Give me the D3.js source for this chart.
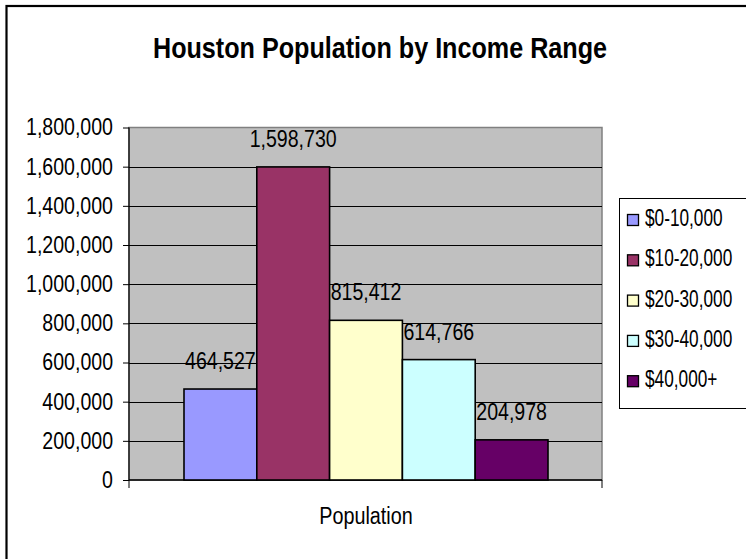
<!DOCTYPE html>
<html>
<head>
<meta charset="utf-8">
<script src="https://cdn.jsdelivr.net/npm/d3@7"></script>
<style>
  body { margin: 0; background: #fff; }
  svg { display: block; }
  text { font-family: "Liberation Sans", Arial, sans-serif; fill: #000; }
</style>
</head>
<body>
<script>
// Houston population by household income range
const title = "Houston Population by Income Range";
const categoryLabel = "Population";
const incomeRanges = ["$0-10,000", "$10-20,000", "$20-30,000", "$30-40,000", "$40,000+"];
const populations = [464527, 1598730, 815412, 614766, 204978];
const barColors = ["#9999FF", "#993366", "#FFFFCC", "#CCFFFF", "#660066"];
const yTicks = [0, 200000, 400000, 600000, 800000, 1000000, 1200000, 1400000, 1600000, 1800000];

const W = 746, H = 559;
const plot = { left: 129, right: 602, top: 127.5, bottom: 480 };

// narrow the glyphs horizontally to mimic a condensed face
function condense(sel, factor) {
  sel.each(function () {
    const w = this.getComputedTextLength();
    this.setAttribute("textLength", (w * factor).toFixed(1));
    this.setAttribute("lengthAdjust", "spacingAndGlyphs");
  });
}

const svg = d3.select("body").append("svg").attr("width", W).attr("height", H);

// outer chart frame (extends past the right and bottom edges)
svg.append("rect")
  .attr("x", 6.5).attr("y", 6).attr("width", W + 20).attr("height", H + 20)
  .attr("fill", "#fff").attr("stroke", "#000").attr("stroke-width", 2.2);

svg.append("text")
  .attr("x", 380).attr("y", 58)
  .attr("text-anchor", "middle")
  .attr("font-size", 29).attr("font-weight", "bold")
  .attr("textLength", 454).attr("lengthAdjust", "spacingAndGlyphs")
  .text(title);

const y = d3.scaleLinear().domain([0, 1800000]).range([plot.bottom, plot.top]);
const x = d3.scaleBand().domain(incomeRanges)
  .range([184, 548]).paddingInner(0).paddingOuter(0);

// plot area
svg.append("rect")
  .attr("x", plot.left).attr("y", plot.top)
  .attr("width", plot.right - plot.left).attr("height", plot.bottom - plot.top)
  .attr("fill", "#C0C0C0").attr("stroke", "#808080").attr("stroke-width", 1.5);

// gridlines
svg.append("g").selectAll("line").data(yTicks.filter(d => d > 0 && d < 1800000)).join("line")
  .attr("x1", plot.left).attr("x2", plot.right)
  .attr("y1", d => Math.round(y(d)) + 0.5).attr("y2", d => Math.round(y(d)) + 0.5)
  .attr("stroke", "#000").attr("stroke-width", 1);

// value axis
const yAxis = d3.axisLeft(y).tickValues(yTicks).tickFormat(d3.format(",")).tickSize(6).tickPadding(10);
const gy = svg.append("g").attr("transform", `translate(${plot.left},0)`).call(yAxis);
gy.select(".domain").attr("stroke", "#000").attr("stroke-width", 1.2).attr("d", `M0,${plot.top}V${plot.bottom}`);
gy.selectAll(".tick line").attr("stroke", "#000");
gy.selectAll(".tick text").attr("font-size", 23).attr("font-family", null).attr("fill", "#000");
condense(gy.selectAll(".tick text"), 0.85);

// category axis baseline and end ticks
svg.append("line")
  .attr("x1", plot.left).attr("x2", plot.right)
  .attr("y1", plot.bottom).attr("y2", plot.bottom)
  .attr("stroke", "#000").attr("stroke-width", 1.5);
svg.append("g").selectAll("line").data([plot.left, plot.right]).join("line")
  .attr("x1", d => d).attr("x2", d => d)
  .attr("y1", plot.bottom).attr("y2", plot.bottom + 8)
  .attr("stroke", "#000").attr("stroke-width", 1);

// bars
svg.append("g").selectAll("rect").data(populations).join("rect")
  .attr("x", (d, i) => x(incomeRanges[i]))
  .attr("y", d => y(d))
  .attr("width", x.bandwidth())
  .attr("height", d => y(0) - y(d))
  .attr("fill", (d, i) => barColors[i])
  .attr("stroke", "#000").attr("stroke-width", 1.6);

// value labels
const valueLabels = svg.append("g").selectAll("text").data(populations).join("text")
  .attr("x", (d, i) => x(incomeRanges[i]) + x.bandwidth() / 2)
  .attr("y", d => y(d) - 20)
  .attr("text-anchor", "middle")
  .attr("font-size", 23)
  .text(d => d3.format(",")(d));
condense(valueLabels, 0.85);

const catText = svg.append("text")
  .attr("x", 366).attr("y", 524)
  .attr("text-anchor", "middle")
  .attr("font-size", 23)
  .text(categoryLabel);
condense(catText, 0.86);

// legend (box runs to the right edge of the frame)
const legend = svg.append("g");
legend.append("rect")
  .attr("x", 619.5).attr("y", 198.5).attr("width", 127).attr("height", 210)
  .attr("fill", "#fff").attr("stroke", "#000").attr("stroke-width", 1);
const rows = legend.selectAll("g").data(incomeRanges).join("g")
  .attr("transform", (d, i) => `translate(0,${i * 40.3})`);
rows.append("rect")
  .attr("x", 627.5).attr("y", 214.5).attr("width", 11).attr("height", 11)
  .attr("fill", (d, i) => barColors[i]).attr("stroke", "#000").attr("stroke-width", 1.3);
// legend labels squeezed with a horizontal scale
rows.append("text")
  .attr("transform", "translate(645,226) scale(0.75,1)")
  .attr("font-size", 23)
  .text(d => d);
</script>
</body>
</html>
